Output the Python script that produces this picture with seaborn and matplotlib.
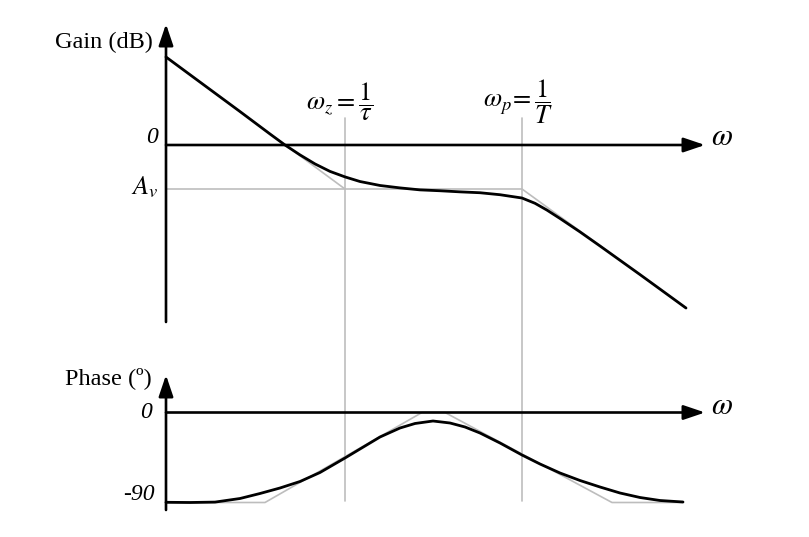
import matplotlib
matplotlib.use("Agg")
import matplotlib.pyplot as plt
import seaborn as sns
import pandas as pd

# ---------------- data (log-frequency position, gain in dB, phase in degrees) -------------
gain_x = [0.00, 0.34, 0.74, 1.04, 1.19, 1.34, 1.49, 1.64, 1.79, 1.94, 2.14, 2.34, 2.54,
          2.74, 2.94, 3.14, 3.34, 3.56, 3.69, 3.81, 3.94, 4.14, 4.34, 4.54, 4.74, 4.94, 5.20]
gain_db = [40.0, 28.6, 15.2, 5.0, 0.0, -4.5, -8.6, -12.0, -14.5, -16.6, -18.4, -19.5, -20.4,
           -20.8, -21.3, -21.7, -22.6, -24.1, -26.5, -29.6, -33.4, -39.5, -45.9, -52.4, -58.9,
           -65.5, -74.1]

gain_asym_x = [0.00, 1.79, 3.56, 5.20]
gain_asym_db = [40.0, -20.0, -20.0, -74.1]

av_x = [0.00, 1.79]
av_db = [-20.0, -20.0]

phase_x = [0.00, 0.24, 0.49, 0.74, 0.94, 1.14, 1.34, 1.54, 1.79, 1.94, 2.14, 2.34, 2.49, 2.67,
           2.84, 2.99, 3.14, 3.34, 3.56, 3.74, 3.94, 4.14, 4.34, 4.54, 4.74, 4.94, 5.17]
phase_deg = [-89.8, -90.0, -89.6, -86.0, -81.0, -75.5, -69.0, -60.0, -45.5, -36.5, -24.5, -15.5,
             -11.0, -8.5, -10.5, -14.5, -20.5, -30.5, -42.5, -51.5, -60.5, -68.0, -74.5, -80.5,
             -85.0, -88.0, -89.5]

phase_asym_x = [0.00, 0.99, 2.56, 2.79, 4.46, 5.17]
phase_asym_deg = [-90.0, -90.0, 0.0, 0.0, -90.0, -90.0]

omega_z = 1.79
omega_p = 3.56
omega_end = 5.39

gain_ticks = [0.0, -20.0]
gain_tick_labels = ["0", "$A_v$"]
phase_ticks = [0.0, -90.0]
phase_tick_labels = ["0", "-90"]

# ---------------- layout ----------------
W, H = 809, 537
X0, XS = 166.0, 100.0      # px of x=0, px per unit
G0, GS = 145.0, 2.2        # px of 0 dB, px per dB
P0, PS = 412.5, 1.0        # px of 0 deg, px per deg

sns.set_style("white")
plt.rcParams["font.family"] = ["Liberation Serif", "DejaVu Serif"]
plt.rcParams["mathtext.fontset"] = "stix"
plt.rcParams["text.color"] = "black"

fig = plt.figure(figsize=(W / 100, H / 100), dpi=100)
axg = fig.add_axes([0, 0, 1, 1])
axp = fig.add_axes([0, 0, 1, 1])
for ax in (axg, axp):
    ax.set_xlim((0 - X0) / XS, (W - X0) / XS)
    ax.axis("off")
    ax.patch.set_alpha(0)
axg.set_ylim((G0 - H) / GS, G0 / GS)
axp.set_ylim((P0 - H) / PS, P0 / PS)

grey = "#bdbdbd"
lw_grey = 1.2
lw_black = 2.0

# vertical corner-frequency lines (span both panels)
for wx in (omega_z, omega_p):
    axg.plot([wx, wx], [(G0 - 118) / GS, (G0 - 501) / GS], color=grey, lw=lw_grey,
             clip_on=False, zorder=1)

# asymptotes
sns.lineplot(x=av_x, y=av_db, ax=axg, color=grey, lw=lw_grey, sort=False, estimator=None)
sns.lineplot(x=gain_asym_x, y=gain_asym_db, ax=axg, color=grey, lw=lw_grey, sort=False,
             estimator=None)
sns.lineplot(x=phase_asym_x, y=phase_asym_deg, ax=axp, color=grey, lw=lw_grey, sort=False,
             estimator=None)

# actual curves
gdf = pd.DataFrame({"w": gain_x, "g": gain_db})
pdf = pd.DataFrame({"w": phase_x, "p": phase_deg})
sns.lineplot(data=gdf, x="w", y="g", ax=axg, color="black", lw=lw_black, sort=False,
             estimator=None)
sns.lineplot(data=pdf, x="w", y="p", ax=axp, color="black", lw=lw_black, sort=False,
             estimator=None)
for ax in (axg, axp):
    for ln in ax.get_lines():
        ln.set_solid_joinstyle("round")

# axes with arrows
arrow = dict(arrowstyle="-|>,head_length=0.65,head_width=0.22", mutation_scale=20,
             lw=1.9, color="black", shrinkA=0, shrinkB=0)
axg.annotate("", xy=(0, (G0 - 24) / GS), xytext=(0, (G0 - 322) / GS), arrowprops=arrow)
axg.annotate("", xy=(omega_end, 0), xytext=(0, 0), arrowprops=arrow)
axp.annotate("", xy=(0, (P0 - 375) / PS), xytext=(0, (P0 - 510) / PS), arrowprops=arrow)
axp.annotate("", xy=(omega_end, 0), xytext=(0, 0), arrowprops=arrow)

# axis titles
axg.text((153 - X0) / XS, (G0 - 42) / GS, "Gain (dB)", ha="right", va="center", fontsize=17.5)
axp.text((152 - X0) / XS, (P0 - 378) / PS, "Phase (\u00ba)", ha="right", va="center",
         fontsize=17.5)

# tick labels
axg.text((158 - X0) / XS, gain_ticks[0] + 3.2, gain_tick_labels[0], ha="right", va="center",
         fontsize=17, style="italic")
axg.text((158 - X0) / XS, gain_ticks[1] + 0.6, gain_tick_labels[1], ha="right", va="center",
         fontsize=19)
axp.text((152 - X0) / XS, phase_ticks[0] - 0.5, phase_tick_labels[0], ha="right", va="center",
         fontsize=17, style="italic")
axp.text((155 - X0) / XS, phase_ticks[1] + 7.5, phase_tick_labels[1], ha="right", va="center",
         fontsize=17, style="italic")

# omega labels
axg.text(5.56, 3.2, r"$\omega$", ha="center", va="center", fontsize=22)
axp.text(5.56, 6.5, r"$\omega$", ha="center", va="center", fontsize=22)

# corner frequency labels
axg.text(omega_z - 0.055, (G0 - 102) / GS, r"$\omega_z = \dfrac{\mathit{1}}{\tau}$",
         ha="center", va="center", fontsize=19)
axg.text(omega_p - 0.04, (G0 - 102) / GS, r"$\omega_p\!=\dfrac{\mathit{1}}{T}$",
         ha="center", va="center", fontsize=19)

fig.savefig("out.png", dpi=100)
